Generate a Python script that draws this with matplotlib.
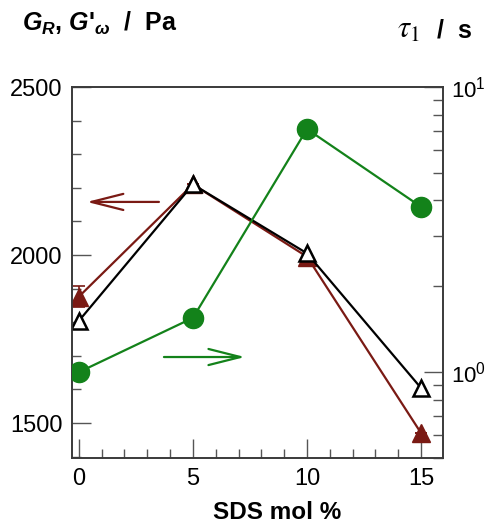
import matplotlib
matplotlib.use("Agg")
import matplotlib.pyplot as plt
from matplotlib.ticker import MultipleLocator, LogLocator, NullFormatter

plt.rcParams['font.family'] = ['Liberation Sans', 'DejaVu Sans']
plt.rcParams['mathtext.fontset'] = 'custom'
plt.rcParams['mathtext.it'] = 'Liberation Sans:italic:bold'
plt.rcParams['mathtext.rm'] = 'Liberation Sans'
plt.rcParams['mathtext.bf'] = 'Liberation Sans:bold'

# SDS content (mol %)
sds = [0, 5, 10, 15]
# Rubber modulus G_R (Pa), with error at 0 mol %
g_rubber = [1876, 2210, 1995, 1470]
g_rubber_err = [32, 0, 0, 0]
# Storage modulus G'_omega (Pa)
g_storage = [1804, 2210, 2005, 1604]
# Relaxation time tau_1 (s)
tau1 = [1.0, 1.55, 7.12, 3.80]
# Right-axis tick labels
tau_ticks = [1, 10]
tau_ticklabels = [r'$10^{0}$', r'$10^{1}$']

RED = '#7a1a14'
GREEN = '#13821a'
SPINE = '#3a3a3a'

fig = plt.figure(figsize=(4.88, 5.25), dpi=100)
ax = fig.add_axes([72/488, 67/525, 371/488, 371/525])
ax2 = ax.twinx()

# left axis: moduli
ax.errorbar(sds, g_rubber, yerr=g_rubber_err, color=RED, lw=1.6,
            marker='^', ms=13, mfc=RED, mec=RED, capsize=4, capthick=1.2,
            elinewidth=1.2, zorder=3)
ax.plot(sds, g_storage, color='black', lw=1.6, marker='^', ms=12,
        mfc='white', mec='black', mew=1.8, zorder=4)

# right axis: relaxation time
ax2.plot(sds, tau1, color=GREEN, lw=1.6, marker='o', ms=14.5,
         mfc=GREEN, mec=GREEN, zorder=3)
ax2.set_yscale('log')

ax.set_xlim(-0.3, 15.96)
ax.set_ylim(1396, 2500)
ax2.set_ylim(0.5, 10)

# direction arrows pointing to the respective axes
arrow_style = "->,head_length=2.3,head_width=0.58"
ax.annotate('', xy=(0.35, 2158), xytext=(3.51, 2158),
            arrowprops=dict(arrowstyle=arrow_style, color=RED, lw=1.6,
                            shrinkA=0, shrinkB=0, mutation_scale=10))
ax2.annotate('', xy=(7.28, 1.13), xytext=(3.73, 1.13),
             arrowprops=dict(arrowstyle=arrow_style, color=GREEN, lw=1.6,
                             shrinkA=0, shrinkB=0, mutation_scale=10))

# ticks
ax.xaxis.set_major_locator(MultipleLocator(5))
ax.xaxis.set_minor_locator(MultipleLocator(1))
ax.yaxis.set_major_locator(MultipleLocator(500))
ax.yaxis.set_minor_locator(MultipleLocator(100))
ax.tick_params(axis='both', which='major', direction='in', length=13.7,
               width=1.0, color='#555555', labelsize=17, pad=7,
               top=False, right=False)
ax.tick_params(axis='both', which='minor', direction='in', length=6.5,
               width=1.0, color='#555555', top=False, right=False)

ax2.set_yticks(tau_ticks)
ax2.set_yticklabels(tau_ticklabels)
ax2.yaxis.set_minor_locator(LogLocator(base=10, subs=range(2, 10)))
ax2.yaxis.set_minor_formatter(NullFormatter())
ax2.tick_params(axis='y', which='major', direction='in', length=13.7,
                width=1.0, color='#555555', labelsize=16, pad=6)
ax2.tick_params(axis='y', which='minor', direction='in', length=7,
                width=1.0, color='#555555')

for a in (ax, ax2):
    for sp in a.spines.values():
        sp.set_color(SPINE)
        sp.set_linewidth(1.2)

# axis titles
fig.text(277/488, 1 - 519/525, 'SDS mol %', ha='center', va='baseline',
         fontsize=17.5, fontweight='bold')
fig.text(22/488, 1 - 31/525, r"$G_R$, $G$'$_\omega$  /  Pa", ha='left',
         va='baseline', fontsize=18, fontweight='bold',
         math_fontfamily='custom')
fig.text(397/488, 1 - 38/525, r'$\tau_{\mathit{1}}$', ha='left',
         va='baseline', fontsize=22, math_fontfamily='stix')
fig.text(472/488, 1 - 38/525, '/  s', ha='right', va='baseline',
         fontsize=18, fontweight='bold')

fig.savefig('out.png', dpi=100)
